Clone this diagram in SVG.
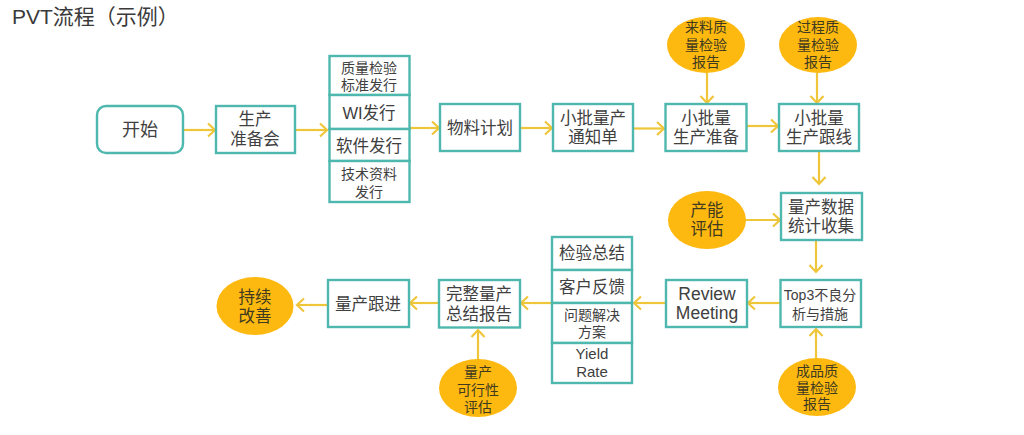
<svg xmlns="http://www.w3.org/2000/svg" width="1024" height="435" viewBox="0 0 1024 435">
<style>
text{font-family:"Liberation Sans","Noto Sans CJK SC",sans-serif;fill:#404040;text-anchor:middle}
.t{text-anchor:start;font-size:21px;fill:#3a3a3a}
.f18{font-size:18px}
.f16{font-size:16.500px}
.f14{font-size:14px}
.o{fill:#3f3a20}
rect{fill:#fff;stroke:#4fb8ae;stroke-width:2.4}
ellipse{fill:#fdb90f}
#connectors path{fill:none;stroke:#efc53a;stroke-width:2.2;marker-end:url(#a)}
</style>
<defs>
<marker id="a" markerUnits="userSpaceOnUse" markerWidth="14" markerHeight="16" refX="10" refY="8" orient="auto">
<path d="M3 1.500L10 8L3 14.500" fill="none" stroke="#efc53a" stroke-width="2.200"/>
</marker>
</defs>
<rect width="1024" height="435" style="fill:#fff;stroke:none"/>
<text class="t" x="12" y="24">PVT流程（示例）</text>
<g id="connectors">
<path d="M184 130H215"/><path d="M296 130H327"/><path d="M409 128H439"/><path d="M520 128H552"/><path d="M634 128.500H664"/><path d="M747 126H778"/>
<path d="M707 73V103"/><path d="M817 73V103"/><path d="M819 152V184"/><path d="M746 220H780"/><path d="M816 241V272"/>
<path d="M780 303H748"/><path d="M666 303H634"/><path d="M552 303H521"/><path d="M439 303H410"/><path d="M328 305H297"/>
<path d="M478 360V330"/><path d="M816 358V329"/>
</g>
<g id="start"><rect x="97" y="106" width="86" height="47" rx="9"/><text class="f18" x="140" y="136">开始</text></g>
<g id="meeting"><rect x="216" y="106" width="79" height="47"/><text class="f16"><tspan x="255" y="125">生产</tspan><tspan x="255" y="145">准备会</tspan></text></g>
<g id="release">
<rect x="329.500" y="56" width="80" height="39"/><text class="f14"><tspan x="369" y="73">质量检验</tspan><tspan x="369" y="90">标准发行</tspan></text>
<rect x="329.500" y="95" width="80" height="34"/><text class="f16" x="369" y="119">WI发行</text>
<rect x="329.500" y="129" width="80" height="32"/><text class="f16" x="369" y="152">软件发行</text>
<rect x="329.500" y="161" width="80" height="41"/><text class="f14"><tspan x="369" y="179">技术资料</tspan><tspan x="369" y="197">发行</tspan></text>
</g>
<g id="material"><rect x="440" y="104" width="80" height="47"/><text class="f16" x="480" y="134">物料计划</text></g>
<g id="notice"><rect x="553" y="104" width="80" height="47"/><text class="f16"><tspan x="593" y="124">小批量产</tspan><tspan x="593" y="143">通知单</tspan></text></g>
<g id="prepare"><rect x="665.500" y="104" width="81" height="47"/><text class="f16"><tspan x="706" y="124">小批量</tspan><tspan x="706" y="143">生产准备</tspan></text></g>
<g id="follow"><rect x="779" y="104" width="80" height="47"/><text class="f16"><tspan x="819" y="124">小批量</tspan><tspan x="819" y="143">生产跟线</tspan></text></g>
<g id="incoming"><ellipse cx="706" cy="45" rx="39" ry="28"/><text class="f14 o"><tspan x="706" y="32">来料质</tspan><tspan x="706" y="50">量检验</tspan><tspan x="706" y="67">报告</tspan></text></g>
<g id="process"><ellipse cx="818" cy="45" rx="39" ry="28"/><text class="f14 o"><tspan x="818" y="32">过程质</tspan><tspan x="818" y="50">量检验</tspan><tspan x="818" y="67">报告</tspan></text></g>
<g id="capacity"><ellipse cx="707" cy="220" rx="39" ry="29"/><text class="f16 o"><tspan x="707" y="216">产能</tspan><tspan x="707" y="235">评估</tspan></text></g>
<g id="data"><rect x="781" y="193" width="81" height="47"/><text class="f16"><tspan x="821" y="213">量产数据</tspan><tspan x="821" y="232">统计收集</tspan></text></g>
<g id="top3"><rect x="780.500" y="280" width="80.500" height="47"/><text class="f14"><tspan x="820" y="300">Top3不良分</tspan><tspan x="820" y="319">析与措施</tspan></text></g>
<g id="review"><rect x="666" y="280" width="81" height="47"/><text style="font-size:17.500px"><tspan x="707" y="300">Review</tspan><tspan x="707" y="319">Meeting</tspan></text></g>
<g id="summary">
<rect x="552" y="237" width="80" height="33"/><text class="f16" x="592" y="259">检验总结</text>
<rect x="552" y="270" width="80" height="33"/><text class="f16" x="592" y="293">客户反馈</text>
<rect x="552" y="303" width="80" height="40"/><text class="f14"><tspan x="592" y="320">问题解决</tspan><tspan x="592" y="337">方案</tspan></text>
<rect x="552" y="343" width="80" height="40"/><text style="font-size:15px"><tspan x="592" y="359">Yield</tspan><tspan x="592" y="377">Rate</tspan></text>
</g>
<g id="report"><rect x="439" y="280" width="81" height="47.500"/><text class="f16"><tspan x="479" y="300">完整量产</tspan><tspan x="479" y="320">总结报告</tspan></text></g>
<g id="track"><rect x="328" y="280" width="81" height="47"/><text class="f16" x="368" y="310">量产跟进</text></g>
<g id="improve"><ellipse cx="255" cy="306" rx="38.500" ry="29"/><text class="f16 o"><tspan x="255" y="303">持续</tspan><tspan x="255" y="322">改善</tspan></text></g>
<g id="feasibility"><ellipse cx="478" cy="388" rx="39" ry="29"/><text class="f14 o"><tspan x="478" y="377">量产</tspan><tspan x="478" y="395">可行性</tspan><tspan x="478" y="412">评估</tspan></text></g>
<g id="finished"><ellipse cx="817" cy="387" rx="39" ry="29"/><text class="f14 o"><tspan x="817" y="376">成品质</tspan><tspan x="817" y="393">量检验</tspan><tspan x="817" y="409">报告</tspan></text></g>
</svg>
